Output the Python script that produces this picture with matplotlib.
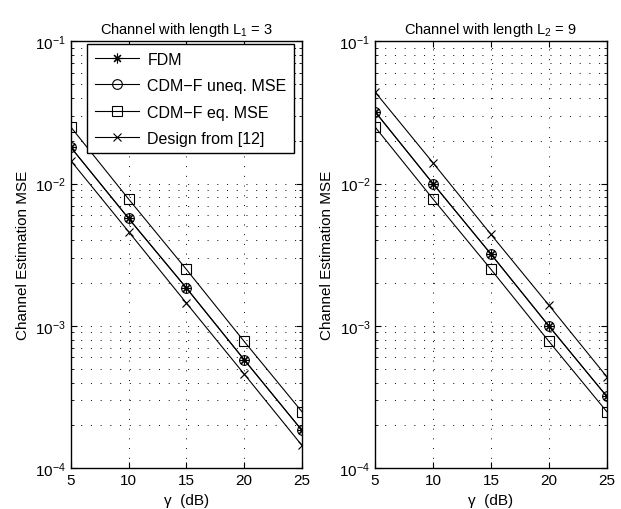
import matplotlib.pyplot as plt
from matplotlib.ticker import LogLocator, NullFormatter

# SNR values (dB)
gamma = [5, 10, 15, 20, 25]

# Left: channel length L1 = 3
fdm_1 = [1.8e-2, 5.7e-3, 1.85e-3, 5.8e-4, 1.85e-4]
cdm_uneq_1 = [1.8e-2, 5.7e-3, 1.85e-3, 5.8e-4, 1.85e-4]
cdm_eq_1 = [2.5e-2, 7.8e-3, 2.5e-3, 7.8e-4, 2.5e-4]
design_1 = [1.45e-2, 4.6e-3, 1.45e-3, 4.6e-4, 1.45e-4]

# Right: channel length L2 = 9
fdm_2 = [3.2e-2, 1.0e-2, 3.2e-3, 1.0e-3, 3.2e-4]
cdm_uneq_2 = [3.2e-2, 1.0e-2, 3.2e-3, 1.0e-3, 3.2e-4]
cdm_eq_2 = [2.5e-2, 7.8e-3, 2.5e-3, 7.8e-4, 2.5e-4]
design_2 = [4.4e-2, 1.4e-2, 4.4e-3, 1.4e-3, 4.4e-4]

labels = ['FDM', 'CDM\u2212F uneq. MSE', 'CDM\u2212F eq. MSE', 'Design from [12]']
markers = [(8, 2, 0), 'o', 's', 'x']
msizes = [7, 7, 6.5, 5.5]
titles = ['Channel with length L$_1$ = 3', 'Channel with length L$_2$ = 9']

plt.rcParams['font.family'] = ['Liberation Sans', 'DejaVu Sans']
plt.rcParams['font.size'] = 10.5
plt.rcParams['mathtext.fontset'] = 'custom'
plt.rcParams['mathtext.rm'] = 'Liberation Sans'
plt.rcParams['mathtext.it'] = 'Liberation Sans'

fig = plt.figure(figsize=(6.21, 5.1), dpi=100)
ax1 = fig.add_axes([0.114, 0.080, 0.372, 0.837])
ax2 = fig.add_axes([0.604, 0.080, 0.373, 0.837])

datasets = [(fdm_1, cdm_uneq_1, cdm_eq_1, design_1),
            (fdm_2, cdm_uneq_2, cdm_eq_2, design_2)]

dots = (0, (1, 9))
for ax, data, title in zip([ax1, ax2], datasets, titles):
    for y, m, ms, lab in zip(data, markers, msizes, labels):
        ax.semilogy(gamma, y, color='black', linewidth=0.8, marker=m,
                    markersize=ms, markerfacecolor='none',
                    markeredgecolor='black', markeredgewidth=0.8, label=lab)
    ax.set_xlim(5, 25)
    ax.set_ylim(1e-4, 1e-1)
    ax.set_xticks([5, 10, 15, 20, 25])
    ax.yaxis.set_major_locator(LogLocator(base=10, numticks=10))
    ax.yaxis.set_minor_locator(LogLocator(base=10, subs=range(2, 10), numticks=10))
    ax.yaxis.set_minor_formatter(NullFormatter())
    ax.grid(True, which='major', linestyle=dots, color='black', linewidth=0.7)
    ax.grid(True, which='minor', axis='y', linestyle=dots, color='black', linewidth=0.7)
    ax.tick_params(which='both', direction='in', top=True, right=True, labelsize=11)
    ax.tick_params(which='major', length=4)
    ax.tick_params(which='minor', length=2)
    for s in ax.spines.values():
        s.set_linewidth(1.0)
    ax.set_xlabel('\u03b3  (dB)', fontsize=11)
    ax.set_ylabel('Channel Estimation MSE', fontsize=11)
    ax.set_title(title, fontsize=10.5)

leg = ax1.legend(loc='upper right', bbox_to_anchor=(0.965, 0.993), borderaxespad=0.0,
                 fancybox=False, edgecolor='black', framealpha=1, handlelength=2.8,
                 borderpad=0.45, labelspacing=0.72, handletextpad=0.5, fontsize=11.5)
leg.get_frame().set_linewidth(1.0)

fig.savefig('out.png', dpi=100)
